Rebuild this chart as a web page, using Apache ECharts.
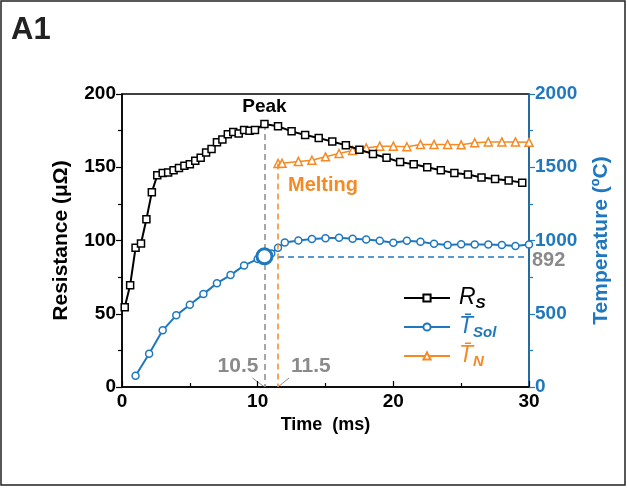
<!DOCTYPE html>
<html><head><meta charset="utf-8">
<script src="https://cdn.jsdelivr.net/npm/echarts/dist/echarts.min.js"></script>
<style>html,body{margin:0;padding:0;background:#fff}#c{width:627px;height:488px}</style>
</head><body><div id="c"></div><script>
// ---- data ----
const timeR = [0.2,0.6,1.0,1.4,1.8,2.2,2.6,3.0,3.4,3.8,4.2,4.6,5.0,5.4,5.8,6.2,6.6,7.0,7.4,7.8,8.2,8.6,9.0,9.4,9.8,10.5,11.5,12.5,13.5,14.5,15.5,16.5,17.5,18.5,19.5,20.5,21.5,22.5,23.5,24.5,25.5,26.5,27.5,28.5,29.5];
const resistance = [54.5,69.5,95,98,114.5,133,144.5,146,146.5,148,149.5,151,152,154.5,156.5,160,162.5,167,169,172.5,174,173,175.5,175,175.5,179.5,178,174.5,172,170,167.5,165,162,159,156.5,153.5,152,150,148,146,145,143,142,141,139.5];
const timeSol = [1,2,3,4,5,6,7,8,9,10,10.5,11,11.5,12,13,14,15,16,17,18,19,20,21,22,23,24,25,26,27,28,29,30];
const tempSol = [77,227,387,489,561,634,709,764,830,873,892,912,950,987,1000,1010,1016,1018,1012,1007,998,984,998,991,977,969,975,973,973,969,962,973];
const timeN = [11.5,11.8,13,14,15,16,17,18,19,20,21,22,23,24,25,26,27,28,29,30];
const tempN = [1526,1527,1540,1548,1571,1594,1615,1632,1644,1644,1640,1656,1656,1656,1653,1667,1673,1673,1673,1670];
const peakTime = 10.5, peakR = 179.5;
const meltTime = 11.5, meltT = 1526;
const solPoint = [10.5, 892];
const xTicks = [0, 30, 10];
const yLeft = [0, 200, 50];
const yRight = [0, 2000, 500];

// ---- style ----
const BLUE = '#1f78bf', ORANGE = '#f58a25', GRAY = '#8a8a8a', BLACK = '#000';
const FF = 'Arial, "Liberation Sans", sans-serif';
const zip = (a, b) => a.map((v, i) => [v, b[i]]);

const chart = echarts.init(document.getElementById('c'), null, {renderer: 'canvas'});
const lblStyle = (c) => ({color: c, fontSize: 19, fontWeight: 'bold', fontFamily: FF, formatter: (v) => String(v)});

chart.setOption({
  animation: false,
  grid: {left: 122, right: 98, top: 94, bottom: 101, show: true, borderColor: BLACK, borderWidth: 1.5, backgroundColor: 'transparent'},
  xAxis: {
    type: 'value', min: xTicks[0], max: xTicks[1], interval: xTicks[2],
    axisLine: {lineStyle: {color: BLACK, width: 1.5}},
    axisTick: {inside: true, length: 6, lineStyle: {color: BLACK, width: 1.2}},
    minorTick: {show: true, splitNumber: 2, length: 4, lineStyle: {color: BLACK, width: 1.2}},
    splitLine: {show: false},
    axisLabel: Object.assign(lblStyle(BLACK), {margin: 5}),
    name: 'Time  (ms)', nameLocation: 'middle', nameGap: 27,
    nameTextStyle: {color: BLACK, fontSize: 18, fontWeight: 'bold', fontFamily: FF}
  },
  yAxis: [{
    type: 'value', min: yLeft[0], max: yLeft[1], interval: yLeft[2],
    axisLine: {show: true, lineStyle: {color: BLACK, width: 1.5}},
    axisTick: {show: true, length: 6, lineStyle: {color: BLACK, width: 1.2}},
    minorTick: {show: true, splitNumber: 2, length: 4, lineStyle: {color: BLACK, width: 1.2}},
    splitLine: {show: false},
    axisLabel: Object.assign(lblStyle(BLACK), {margin: 6}),
    name: 'Resistance (μΩ)', nameLocation: 'middle', nameGap: 50,
    nameTextStyle: {color: BLACK, fontSize: 21, fontWeight: 'bold', fontFamily: FF}
  }, {
    type: 'value', position: 'right', min: yRight[0], max: yRight[1], interval: yRight[2],
    axisLine: {show: true, lineStyle: {color: BLUE, width: 1.5}},
    axisTick: {show: true, length: 6, lineStyle: {color: BLUE, width: 1.2}},
    minorTick: {show: true, splitNumber: 2, length: 4, lineStyle: {color: BLUE, width: 1.2}},
    splitLine: {show: false},
    axisLabel: Object.assign(lblStyle(BLUE), {margin: 6}),
    name: 'Temperature (ºC)', nameLocation: 'middle', nameGap: 62,
    nameTextStyle: {color: BLUE, fontSize: 21, fontWeight: 'bold', fontFamily: FF}
  }],
  legend: {
    orient: 'vertical', left: 398, top: 281, itemWidth: 46, itemHeight: 9, itemGap: 4,
    selectedMode: false,
    data: [
      {name: 'R', textStyle: {color: BLACK}},
      {name: 'Sol', textStyle: {color: BLUE}},
      {name: 'N', textStyle: {color: ORANGE}}
    ],
    formatter: function (n) {
      if (n === 'R') return '{m|R}{s|S}';
      return '{m|T\u0304}{s|' + n + '}';
    },
    textStyle: {
      padding: [0, 0, 0, 4],
      rich: {
        m: {fontSize: 23, fontStyle: 'italic', fontFamily: FF, lineHeight: 26},
        s: {fontSize: 15, fontStyle: 'italic', fontWeight: 'bold', fontFamily: FF, verticalAlign: 'bottom', padding: [10, 0, 0, 0], lineHeight: 26}
      }
    }
  },
  series: [{
    name: 'R', type: 'line', data: zip(timeR, resistance), yAxisIndex: 0,
    symbol: 'rect', symbolSize: 7,
    itemStyle: {color: '#fff', borderColor: BLACK, borderWidth: 1.5},
    lineStyle: {color: BLACK, width: 2}, z: 5,
    markLine: {silent: true, symbol: ['none', 'none'], label: {show: false},
      lineStyle: {color: GRAY, type: [6, 4], width: 1.5},
      data: [[{coord: [peakTime, peakR]}, {coord: [peakTime, 0]}]]}
  }, {
    name: 'Sol', type: 'line', data: zip(timeSol, tempSol), yAxisIndex: 1,
    symbol: 'circle', symbolSize: 7,
    itemStyle: {color: '#fff', borderColor: BLUE, borderWidth: 1.5},
    lineStyle: {color: BLUE, width: 2}, z: 4,
    markLine: {silent: true, symbol: ['none', 'none'], label: {show: false},
      lineStyle: {color: BLUE, type: [6, 4], width: 1.5},
      data: [[{coord: [meltTime, solPoint[1]]}, {coord: [xTicks[1], solPoint[1]]}]]}
  }, {
    name: 'N', type: 'line', data: zip(timeN, tempN), yAxisIndex: 1,
    symbol: 'triangle', symbolSize: 8,
    itemStyle: {color: '#fff', borderColor: ORANGE, borderWidth: 1.5},
    lineStyle: {color: ORANGE, width: 1.5}, z: 3,
    markLine: {silent: true, symbol: ['none', 'none'], label: {show: false},
      lineStyle: {color: ORANGE, type: [6, 4], width: 1.5},
      data: [[{coord: [meltTime, meltT]}, {coord: [meltTime, 0]}]]}
  }, {
    name: 'point', type: 'scatter', data: [solPoint], yAxisIndex: 1,
    symbol: 'circle', symbolSize: 15,
    itemStyle: {color: '#fff', borderColor: BLUE, borderWidth: 3, opacity: 1}, z: 10
  }]
});

// ---- annotations placed through the axes ----
const pL = (x, y) => chart.convertToPixel({xAxisIndex: 0, yAxisIndex: 0}, [x, y]);
const pR = (x, y) => chart.convertToPixel({xAxisIndex: 0, yAxisIndex: 1}, [x, y]);
const peakPx = pL(peakTime, peakR);
const meltPx = pR(meltTime, meltT);
const solPx = pR(xTicks[1], solPoint[1]);
const ax105 = pL(peakTime, 0), ax115 = pL(meltTime, 0);
const txt = (x, y, s, c, size, align, vAlign) => ({type: 'text', x: x, y: y, silent: true,
  style: {text: s, fill: c, fontSize: size, fontWeight: 'bold', fontFamily: FF, align: align || 'left', verticalAlign: vAlign || 'middle'}});
chart.setOption({graphic: [
  {type: 'rect', shape: {x: 1, y: 1, width: 624, height: 484}, style: {fill: 'none', stroke: '#222', lineWidth: 1.5}, silent: true},
  txt(11, 30, 'A1', '#222', 31, 'left', 'middle'),
  txt(peakPx[0], peakPx[1] - 17, 'Peak', BLACK, 19, 'center'),
  txt(meltPx[0] + 10, meltPx[1] + 22, 'Melting', ORANGE, 20),
  txt(solPx[0] + 3, solPx[1] + 4, String(solPoint[1]), GRAY, 20),
  txt(ax105[0] - 6, ax105[1] - 21, String(peakTime), GRAY, 21, 'right'),
  txt(ax115[0] + 13, ax115[1] - 21, String(meltTime), GRAY, 21, 'left'),
  {type: 'line', shape: {x1: ax105[0] - 12, y1: ax105[1] - 9, x2: ax105[0], y2: ax105[1]}, style: {stroke: GRAY, lineWidth: 1}, silent: true},
  {type: 'line', shape: {x1: ax115[0] + 11, y1: ax115[1] - 9, x2: ax115[0], y2: ax115[1]}, style: {stroke: GRAY, lineWidth: 1}, silent: true}
]});
</script></body></html>
